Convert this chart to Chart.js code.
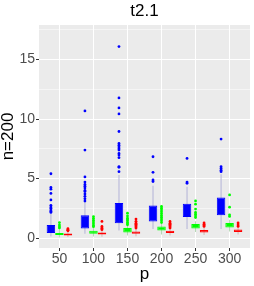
<!DOCTYPE html>
<html>
<head>
<meta charset="utf-8">
<script src="https://cdn.jsdelivr.net/npm/chart.js@4"></script>
<style>
  body { margin: 0; background: #ffffff; }
  #wrap { width: 254px; height: 286px; }
</style>
</head>
<body>
<div id="wrap"><canvas id="chart"></canvas></div>
<script>
const categories = ["50", "100", "150", "200", "250", "300"];
const yTicks = [0, 2.5, 5, 7.5, 10, 12.5, 15, 17.5];

// blue series
const blueLo = [0.13, 0.36, 0.64, 0.75, 0.75, 0.75];
const blueQ1 = [0.42, 0.8, 1.25, 1.39, 1.76, 1.92];
const blueQ3 = [1.09, 1.92, 2.95, 2.73, 2.87, 3.4];
const blueHi = [2.05, 3.0, 5.3, 4.4, 4.3, 5.35];
const blueOut = [
  [2.15, 2.25, 2.35, 2.5, 2.6, 2.75, 3.2, 3.75, 4.1, 4.25, 5.4],
  [3.1, 3.3, 3.5, 3.7, 3.9, 4.0, 4.2, 4.35, 4.5, 4.7, 5.13, 7.39, 10.68],
  [5.57, 5.94, 6.0, 6.75, 6.97, 7.11, 7.39, 7.5, 7.65, 7.8, 7.95, 8.95, 10.43, 10.93, 11.77, 16.09],
  [4.74, 4.88, 5.52, 6.83],
  [4.6, 4.7, 6.69],
  [5.57, 5.7, 5.85, 5.99, 8.31],
];

// green series
const greenLo = [0.05, 0.12, 0.2, 0.3, 0.5, 0.55];
const greenQ1 = [0.25, 0.36, 0.47, 0.64, 0.8, 0.89];
const greenQ3 = [0.42, 0.61, 0.84, 0.97, 1.17, 1.26];
const greenHi = [0.75, 0.85, 1.0, 1.2, 1.4, 1.53];
const greenOut = [
  [0.85, 0.95, 1.1, 1.3],
  [0.95, 1.05, 1.2, 1.35, 1.5, 1.65, 1.8],
  [1.11, 1.2, 1.31, 1.45, 1.55, 1.67, 1.85, 2.09],
  [1.3, 1.45, 1.59, 1.75, 1.9, 2.05, 2.2, 2.35, 2.5, 2.65],
  [1.72, 1.85, 2.0, 2.15, 2.43, 2.84, 3.12],
  [1.81, 1.95, 2.59, 3.62],
];

// red series
const redLo = [0.08, 0.1, 0.15, 0.2, 0.25, 0.3];
const redQ1 = [0.22, 0.3, 0.36, 0.42, 0.47, 0.5];
const redQ3 = [0.38, 0.47, 0.55, 0.61, 0.67, 0.72];
const redHi = [0.55, 0.62, 0.75, 0.75, 0.88, 0.9];
const redOut = [
  [0.6, 0.65, 0.7, 0.78],
  [0.7, 0.78, 0.85, 0.97, 1.39],
  [0.84, 0.95, 1.05, 1.15, 1.25, 1.4, 1.59],
  [0.84, 0.95, 1.05, 1.15, 1.25, 1.39],
  [0.97, 1.05, 1.15, 1.26],
  [0.97, 1.1, 1.26],
];

const groupWidth = 0.75;

function range(lo, hi) {
  return categories.map((c, i) => ({ x: i, y: [lo[i], hi[i]] }));
}

function outliers(out, slot) {
  const step = groupWidth / 3;
  const shift = -groupWidth / 2 + step * slot + step / 2;
  return out.flatMap((vals, i) => vals.map((v) => ({ x: i + shift, y: v })));
}

function boxSets(name, color, whisker, lo, q1, q3, hi, out, slot) {
  return [
    {
      type: "bar",
      label: name + " box",
      stack: name,
      order: 1,
      data: range(q1, q3),
      backgroundColor: color,
      borderColor: color,
      borderWidth: 1,
      borderSkipped: false,
      barPercentage: 1,
      categoryPercentage: groupWidth,
    },
    {
      type: "bar",
      label: name + " whisker",
      stack: name,
      order: 2,
      data: range(lo, hi),
      backgroundColor: whisker,
      borderWidth: 0,
      barPercentage: 0.12,
      categoryPercentage: groupWidth,
    },
    {
      type: "scatter",
      label: name + " outliers",
      order: 0,
      data: outliers(out, slot),
      backgroundColor: color,
      borderWidth: 0,
      pointRadius: 1.4,
    },
  ];
}

const panelBg = {
  id: "panelBg",
  beforeDraw(chart) {
    const { ctx, chartArea: a } = chart;
    ctx.save();
    ctx.fillStyle = "#EBEBEB";
    ctx.fillRect(a.left, a.top, a.right - a.left, a.bottom - a.top);
    ctx.restore();
  },
};

new Chart(document.getElementById("chart"), {
  type: "bar",
  data: {
    datasets: [
      ...boxSets("blue", "#0000FF", "#B4B4D8", blueLo, blueQ1, blueQ3, blueHi, blueOut, 0),
      ...boxSets("green", "#00FF00", "#B4D8B4", greenLo, greenQ1, greenQ3, greenHi, greenOut, 1),
      ...boxSets("red", "#FF0000", "#D8B4B4", redLo, redQ1, redQ3, redHi, redOut, 2),
    ],
  },
  options: {
    responsive: true,
    maintainAspectRatio: false,
    animation: false,
    layout: { padding: { left: 0, right: 2, top: 0, bottom: 0 } },
    plugins: {
      legend: { display: false },
      tooltip: { enabled: false },
      title: {
        display: true,
        text: "t2.1",
        fullSize: false,
        color: "#000000",
        font: { family: "Liberation Sans", size: 17, weight: "normal", lineHeight: 1.2 },
        padding: { top: 1, bottom: 3.6 },
      },
    },
    scales: {
      x: {
        type: "linear",
        offset: false,
        min: -0.6,
        max: 5.6,
        bounds: "data",
        afterBuildTicks: (s) => { s.ticks = categories.map((c, i) => ({ value: i })); },
        afterFit: (s) => { s.height = 38; },
        ticks: {
          callback: (v) => categories[v],
          color: "#4D4D4D",
          font: { family: "Liberation Sans", size: 14 },
          padding: 0,
          maxRotation: 0,
          autoSkip: false,
        },
        grid: { offset: false, color: "#FFFFFF", lineWidth: 1, tickLength: 3, tickColor: "#333333", tickWidth: 1 },
        border: { display: false },
        title: {
          display: true,
          text: "p",
          color: "#000000",
          font: { family: "Liberation Sans", size: 17, lineHeight: 1.2 },
          padding: { top: 0, bottom: 1.5 },
        },
      },
      y: {
        type: "linear",
        stacked: false,
        min: -0.84,
        max: 17.9,
        bounds: "data",
        afterBuildTicks: (s) => { s.ticks = yTicks.map((v) => ({ value: v })); },
        afterFit: (s) => { s.width = 39; },
        ticks: {
          callback: (v) => (v % 5 === 0 ? String(v) : ""),
          color: "#4D4D4D",
          font: { family: "Liberation Sans", size: 14 },
          padding: 1,
        },
        grid: {
          color: "#FFFFFF",
          lineWidth: (c) => (c.tick && c.tick.value % 5 === 0 ? 1 : 0.5),
          tickLength: 3,
          tickColor: (c) => (c.tick && c.tick.value % 5 === 0 ? "#333333" : "rgba(0,0,0,0)"),
          tickWidth: 1,
        },
        border: { display: false },
        title: {
          display: true,
          text: "n=200",
          color: "#000000",
          font: { family: "Liberation Sans", size: 17, lineHeight: 1 },
          padding: { top: 0, bottom: 0 },
        },
      },
    },
  },
  plugins: [panelBg],
});
</script>
</body>
</html>
